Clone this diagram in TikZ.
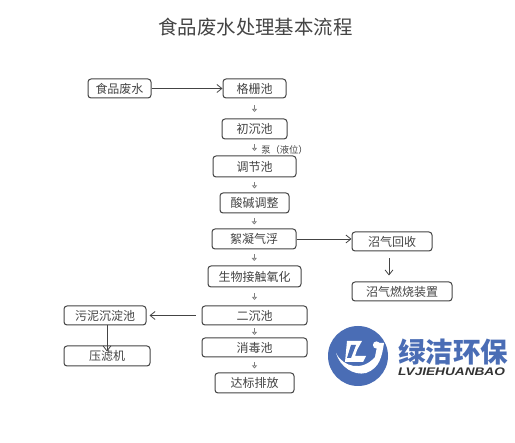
\documentclass[tikz,border=0pt]{standalone}
\usepackage{fontspec}
\setmainfont{Noto Sans CJK SC}
\newfontfamily\latinfont{Liberation Sans}
\usetikzlibrary{arrows.meta,calc}
\definecolor{logoblue}{HTML}{4A6DB5}
\definecolor{inkgray}{HTML}{444444}
\tikzset{
  x=1pt,y=-1pt,
  box/.style={draw=inkgray,line width=1pt,rounded corners=3pt,inner sep=0pt,text=inkgray,font=\fontsize{12}{12}\selectfont,anchor=center},
  conn/.style={draw=inkgray,line width=0.8pt,-{Straight Barb[length=5pt,width=8pt]}},
  tiny/.style={draw=gray,line width=1.1pt,-{Triangle[open,length=3pt,width=5pt]}},
}
\newcommand{\mkbox}[6]{\node[box,minimum width=#4pt-#3pt,minimum height=#6pt-#5pt] (#1) at ({(#3+#4)/2},{(#5+#6)/2}) {#2};}
\newcommand{\tinyarrow}[2]{\draw[tiny] ($(#1.south)!.5!(#2.north)+(0,-3)$) -- ($(#1.south)!.5!(#2.north)+(0,3.5)$);}
\begin{document}
\begin{tikzpicture}
\useasboundingbox (0,0) rectangle (515,443);
\fill[white] (0,0) rectangle (515,443);
\node[text=inkgray,font=\fontsize{19.4}{19.4}\selectfont] (title) at (255.5,27) {食品废水处理基本流程};
\mkbox{a}{食品废水}{88}{151}{79}{98}
\mkbox{b}{格栅池}{223}{286}{79}{98}
\mkbox{c}{初沉池}{222}{287}{119}{139}
\mkbox{d}{调节池}{213}{296}{156}{177}
\mkbox{e}{酸碱调整}{220}{289}{193}{213}
\mkbox{f}{絮凝气浮}{212}{296}{229}{249}
\mkbox{g}{生物接触氧化}{208}{301}{266}{287}
\mkbox{h}{二沉池}{202}{307}{306}{325}
\mkbox{i}{消毒池}{202}{307}{338}{357}
\mkbox{j}{达标排放}{215}{294}{373}{393}
\mkbox{k}{污泥沉淀池}{64}{146}{306}{325}
\mkbox{l}{压滤机}{64}{150}{346}{366}
\mkbox{m}{沼气回收}{352}{432}{232}{251}
\mkbox{n}{沼气燃烧装置}{352}{452}{282}{301}
\node[text=inkgray,font=\fontsize{9.3}{9.3}\selectfont,inner sep=0pt] (pump) at (284.5,150) {泵（液位）};
\draw[conn] (a.east) -- (b.west);
\draw[conn] (f.east) -- (f.east -| m.west);
\draw[conn,shorten <=7pt,shorten >=6pt] ([xshift=-3pt]m.south) -- ([xshift=-3pt]m.south |- n.north);
\draw[conn,shorten <=6pt,shorten >=3pt] (h.west) -- (k.east);
\draw[conn,shorten >=-6pt] ([xshift=2pt]k.south) -- ([xshift=2pt]k.south |- l.north);
\tinyarrow{b}{c}
\tinyarrow{c}{d}
\tinyarrow{d}{e}
\tinyarrow{e}{f}
\tinyarrow{f}{g}
\tinyarrow{g}{h}
\tinyarrow{h}{i}
\tinyarrow{i}{j}
% logo
\fill[logoblue] (358,356) circle (30);
\fill[white] (336,353) .. controls (343,367) and (362,372) .. (375,357)
  .. controls (376,351) and (377,347) .. (378,343) -- (384,343)
  .. controls (382,356) and (380,368) .. (366,373)
  .. controls (354,376) and (340,367) .. (336,353) -- cycle;
\fill[white] (347,341) -- (362,341) -- (357,350) -- (355,356) -- (366,356) -- (363,362) -- (345,362) -- cycle;
\fill[logoblue] (351,345) -- (356,345) -- (351,358) -- (347,358) -- cycle;
\fill[white] (376.5,345) circle (3.6);
\node[text=logoblue,font=\fontsize{27.5}{27.5}\selectfont\bfseries,inner sep=0pt] (logoa) at (453,352) {绿洁环保};
\node[text=black!80,font=\fontsize{11}{11}\selectfont\latinfont\bfseries\itshape,inner sep=0pt,xscale=1.24] (logob) at (451.5,372) {LVJIEHUANBAO};
\end{tikzpicture}
\end{document}
